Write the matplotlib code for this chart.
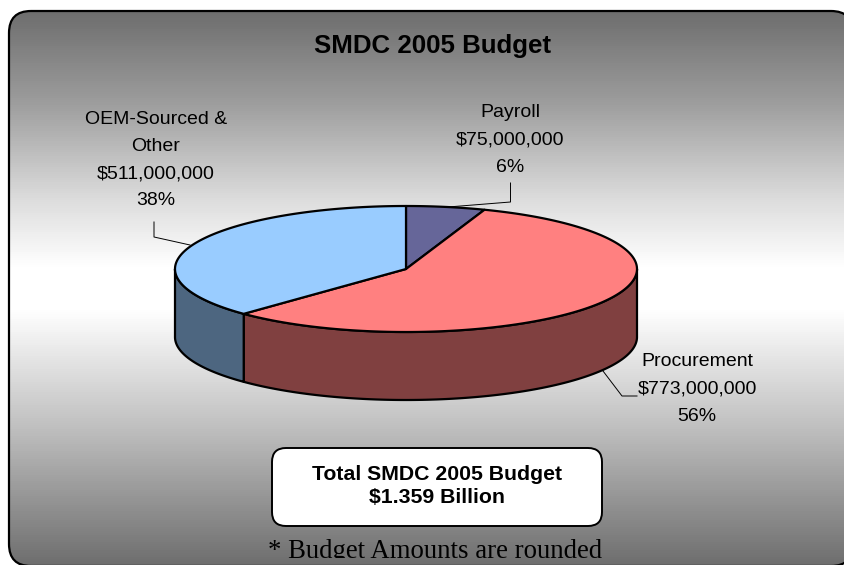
import numpy as np
import matplotlib
matplotlib.use("Agg")
import matplotlib.pyplot as plt
from matplotlib.patches import FancyBboxPatch, Polygon, Rectangle
from matplotlib.colors import LinearSegmentedColormap

categories = ["Payroll", "Procurement", "OEM-Sourced &\nOther"]
amounts = [75000000, 773000000, 511000000]
amount_labels = ["$75,000,000", "$773,000,000", "$511,000,000"]
percent_labels = ["6%", "56%", "38%"]
top_colors = ["#666699", "#FF8080", "#99CCFF"]
side_colors = ["#4D4D73", "#804040", "#4D6680"]

title = "SMDC 2005 Budget"
total_text = "Total SMDC 2005 Budget\n$1.359 Billion"
footnote = "* Budget Amounts are rounded"

cx, cy = 406, 269
rx, ry = 231, 63
depth = 68


def rim(t0, t1, n=200):
    # t is degrees clockwise from twelve o'clock
    t = np.radians(np.linspace(t0, t1, n))
    return np.column_stack([cx + rx * np.sin(t), cy - ry * np.cos(t)])


fig = plt.figure(figsize=(8.44, 5.65), dpi=100)
ax = fig.add_axes([0, 0, 1, 1])
ax.axis("off")

# panel with a dark-white-dark vertical gradient, runs off the right and bottom
cmap = LinearSegmentedColormap.from_list("panel", [
    (0.0, "#6E6E6E"), (0.16, "#9C9C9C"), (0.34, "#DDDDDD"), (0.46, "#FFFFFF"),
    (0.54, "#FFFFFF"), (0.75, "#C0C0C0"), (1.0, "#6E6E6E")])
grad = np.linspace(0, 1, 555).reshape(-1, 1)
panel_r = 22
panel = FancyBboxPatch((9 + panel_r, 11 + panel_r), 844 - 2 * panel_r, 555 - 2 * panel_r,
                       boxstyle=f"round,pad={panel_r},rounding_size={panel_r}",
                       facecolor="none", edgecolor="none", zorder=2)
ax.add_patch(panel)
im = ax.imshow(grad, cmap=cmap, extent=(9, 853, 566, 11), aspect="auto", zorder=1)
im.set_clip_path(panel)
# outline as a flat polygon, curves get bent when clipped at the canvas edge
outline = panel.get_path().to_polygons()[0]
ax.add_patch(Polygon(outline, closed=True, fill=False, edgecolor="black",
                     linewidth=1.6, zorder=2))
ax.set_xlim(0, 844)
ax.set_ylim(565, 0)

ax.text(433, 46, title, ha="center", va="center", fontsize=18.6,
        fontweight="bold", family="Liberation Sans", zorder=6)

# cumulative wedge angles from the budget amounts
fractions = np.array(amounts) / sum(amounts)
edges = np.concatenate([[0], np.cumsum(fractions) * 360])

# side wall, front half of the ellipse only
for i in range(len(amounts)):
    t0, t1 = max(edges[i], 90), min(edges[i + 1], 270)
    if t1 <= t0:
        continue
    upper = rim(t0, t1)
    lower = upper[::-1] + [0, depth]
    ax.add_patch(Polygon(np.vstack([upper, lower]), closed=True, facecolor=side_colors[i],
                         edgecolor="black", linewidth=1.6, joinstyle="round", zorder=3))

# top face
for i in range(len(amounts)):
    pts = np.vstack([[cx, cy], rim(edges[i], edges[i + 1])])
    ax.add_patch(Polygon(pts, closed=True, facecolor=top_colors[i],
                         edgecolor="black", linewidth=1.6, joinstyle="round", zorder=4))

# leader lines
leaders = [
    ([510.5, 510.5, 448], [183, 202, 207]),
    ([603, 622, 637], [371, 396, 396]),
    ([154, 154, 190], [222, 237, 245]),
]
for xs, ys in leaders:
    ax.plot(xs, ys, color="black", linewidth=0.7, zorder=5)

label_pos = [(510, 140), (697, 389), (156, 160)]
for name, amt, pct, (x, y) in zip(categories, amount_labels, percent_labels, label_pos):
    ax.text(x, y, f"{name}\n{amt}\n{pct}", ha="center", va="center", fontsize=14,
            family="Liberation Sans", linespacing=1.77, zorder=6)

# total box
ax.add_patch(FancyBboxPatch((272 + 14, 448 + 14), 330 - 28, 78 - 28,
                            boxstyle="round,pad=14,rounding_size=14",
                            facecolor="white", edgecolor="black", linewidth=1.4, zorder=5))
ax.text(437, 486, total_text, ha="center", va="center", fontsize=15.3, fontweight="bold",
        family="Liberation Sans", linespacing=1.27, zorder=6)

# footnote runs past the bottom of its text frame
note = ax.text(435, 551, footnote, ha="center", va="center", fontsize=19.3,
               family="Liberation Serif", zorder=6)
note.set_clip_path(Rectangle((0, 0), 844, 558, transform=ax.transData))
note.set_clip_on(True)

fig.savefig("out.png", dpi=100)
plt.close(fig)
